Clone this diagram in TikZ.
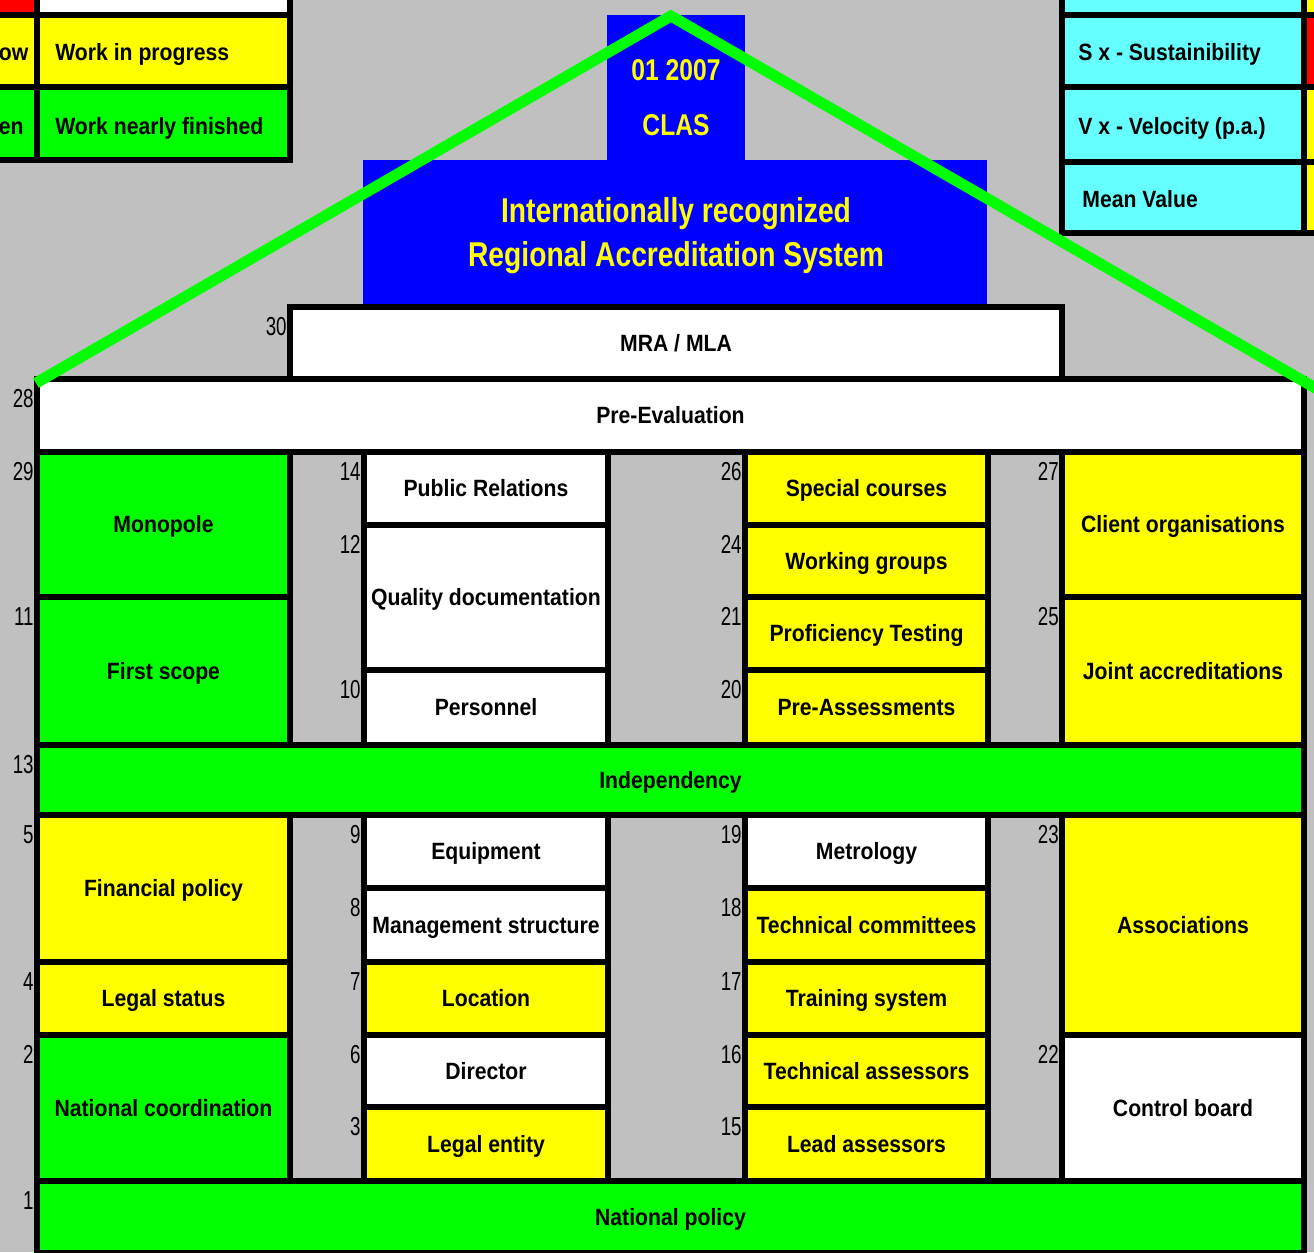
\documentclass[tikz,border=0pt]{standalone}
\usepackage{fontspec}
\setmainfont{Liberation Sans}
\newfontfamily\cellfont[FakeStretch=0.9]{Liberation Sans}
\newfontfamily\numfont[FakeStretch=0.72]{Liberation Sans}
\newfontfamily\signfont[FakeStretch=0.82]{Liberation Sans}
\usepackage{tikz}
\usetikzlibrary{calc}
\definecolor{bgc}{HTML}{C0C0C0}
\definecolor{yelc}{HTML}{FFFF00}
\definecolor{grnc}{HTML}{00FF00}
\definecolor{cyac}{HTML}{66FFFF}
\definecolor{bluc}{HTML}{0000FF}
\definecolor{redc}{HTML}{FF0000}
\tikzset{
  cell/.style={draw=black,line width=0.12cm,inner sep=0pt,align=center,text height=0.33cm,text depth=0pt,font=\cellfont\bfseries\fontsize{13.4}{15}\selectfont},
  legtxt/.style={inner sep=0pt,anchor=base west,font=\cellfont\bfseries\fontsize{13.4}{15}\selectfont},
  lbl/.style={inner sep=0pt,anchor=north east,font=\numfont\fontsize{14.8}{16}\selectfont},
  sign/.style={inner sep=0pt,text=yelc,font=\signfont\bfseries\fontsize{17.1}{20}\selectfont},
  bigsign/.style={inner sep=0pt,text=yelc,font=\signfont\bfseries\fontsize{19.6}{22}\selectfont},
  roof/.style={draw=grnc,line width=0.22cm}
}

\begin{document}
\begin{tikzpicture}[x=0.02cm,y=-0.02cm]
\useasboundingbox (0,0) rectangle (1314,1252);
\fill[bgc] (0,0) rectangle (1314,1252);
\clip (0,0) rectangle (1314,1252);
% legends
\foreach \n/\xa/\ya/\xb/\yb/\c in {lr0/-80/-40/37/15/redc, lw0/37/-40/290/15/white, ly/-80/15/37/87/yelc, lyt/37/15/290/87/yelc, lg/-80/87/37/160/grnc, lgt/37/87/290/160/grnc,
  rc0/1062/-40/1304/15/cyac, ry0/1304/-40/1400/15/yelc, rs/1062/15/1304/87/cyac, rsr/1304/15/1400/87/redc,
  rv/1062/87/1304/162/cyac, rvr/1304/87/1400/162/yelc, rm/1062/162/1304/233/cyac, rmr/1304/162/1400/233/yelc}
  \node[cell,fill=\c,minimum width={(\xb-\xa)*0.02cm},minimum height={(\yb-\ya)*0.02cm}] (\n) at ({(\xa+\xb)/2},{(\ya+\yb)/2}) {};
\node[legtxt] (yel) at (-38,60) {Yellow};
\node[legtxt] (wip) at (55,60) {Work in progress};
\node[legtxt] (grn) at (-38,134) {Green};
\node[legtxt] (wnf) at (55,134) {Work nearly finished};
\node[legtxt] (sus) at (1078,60) {S x - Sustainibility};
\node[legtxt] (vel) at (1078,134) {V x - Velocity (p.a.)};
\node[legtxt] (mean) at (1082,207) {Mean Value};
% blue sign
\fill[bluc] (607,15) rectangle (745,160);
\fill[bluc] (363,160) rectangle (987,304);
\node[sign] (date) at (676,70) {01 2007};
\node[sign] (clas) at (676,125) {CLAS};
\node[bigsign] (intl) at (676,214) {Internationally recognized};
\node[bigsign] (ras) at (676,258) {Regional Accreditation System};
% house
\node[cell,fill=white,minimum width=772*0.02cm,minimum height=72*0.02cm] (mra) at (676,343) {MRA / MLA};
\foreach \n/\xa/\ya/\xb/\yb/\c/\t in {prev/37/379/1304/452/white/Pre-Evaluation,
  mono/37/452/290/597/grnc/Monopole, scope/37/597/290/745/grnc/First scope,
  pubrel/364/452/608/525/white/Public Relations, qdoc/364/525/608/670/white/Quality documentation, pers/364/670/608/745/white/Personnel,
  spec/745/452/988/525/yelc/Special courses, wgrp/745/525/988/597/yelc/Working groups, prof/745/597/988/670/yelc/Proficiency Testing, preas/745/670/988/745/yelc/Pre-Assessments,
  client/1062/452/1304/597/yelc/Client organisations, joint/1062/597/1304/745/yelc/Joint accreditations,
  indep/37/745/1304/815/grnc/Independency,
  fin/37/815/290/962/yelc/Financial policy, legst/37/962/290/1035/yelc/Legal status, natco/37/1035/290/1181/grnc/National coordination,
  equip/364/815/608/888/white/Equipment, mgmt/364/888/608/962/white/Management structure, loc/364/962/608/1035/yelc/Location, dir/364/1035/608/1107/white/Director, legent/364/1107/608/1181/yelc/Legal entity,
  metro/745/815/988/888/white/Metrology, tcom/745/888/988/962/yelc/Technical committees, train/745/962/988/1035/yelc/Training system, tass/745/1035/988/1107/yelc/Technical assessors, lead/745/1107/988/1181/yelc/Lead assessors,
  assoc/1062/815/1304/1035/yelc/Associations, ctrl/1062/1035/1304/1181/white/Control board,
  natpol/37/1181/1304/1253/grnc/National policy}
  \node[cell,fill=\c,minimum width={(\xb-\xa)*0.02cm},minimum height={(\yb-\ya)*0.02cm}] (\n) at ({(\xa+\xb)/2},{(\ya+\yb)/2}) {\t};
% numbers
\foreach \t/\x/\y in {30/290/307, 28/37/379, 29/37/452, 11/37/597, 13/37/745, 5/37/815, 4/37/962, 2/37/1035, 1/37/1181,
  14/364/452, 12/364/525, 10/364/670, 9/364/815, 8/364/888, 7/364/962, 6/364/1035, 3/364/1107,
  26/745/452, 24/745/525, 21/745/597, 20/745/670, 19/745/815, 18/745/888, 17/745/962, 16/745/1035, 15/745/1107,
  27/1062/452, 25/1062/597, 23/1062/815, 22/1062/1035}
  \node[lbl] (n\t) at (\x-3,\y+10) {\t};
% roof
\coordinate (roofL) at (36,383);
\coordinate (roofT) at (671,16);
\coordinate (roofR) at (1324,393);
\draw[roof] (roofL) -- (roofT) -- (roofR);
\end{tikzpicture}
\end{document}
